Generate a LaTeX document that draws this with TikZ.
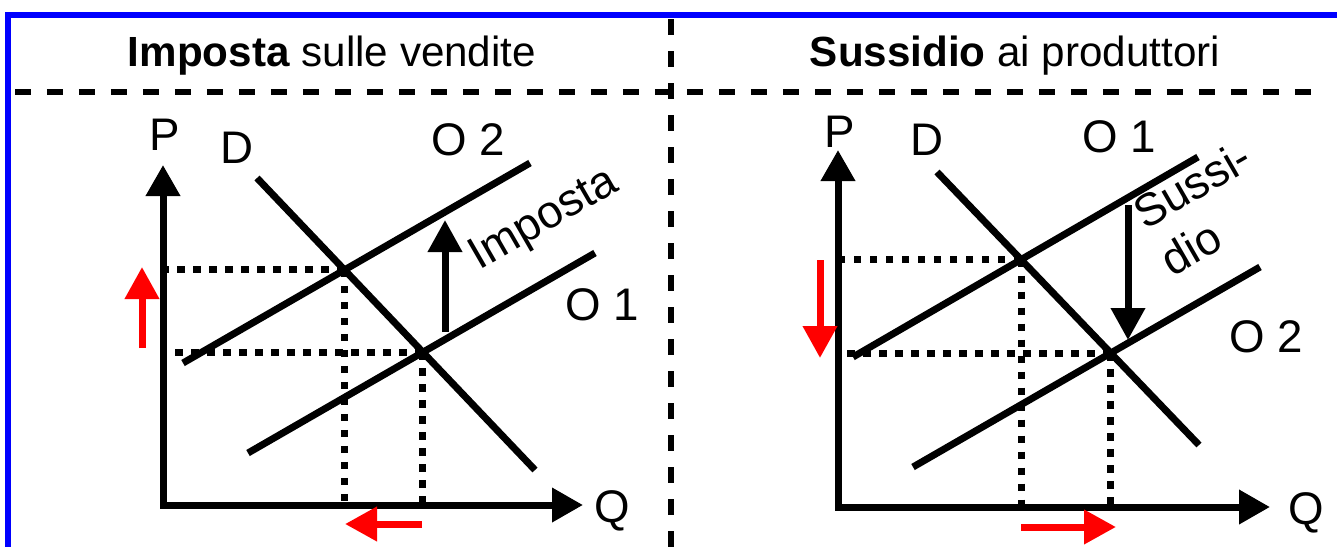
\documentclass[tikz,border=0pt]{standalone}
\usepackage{fontspec}
\setmainfont{Liberation Sans}
\usetikzlibrary{arrows.meta}
\definecolor{FrameBlue}{RGB}{0,0,255}
\definecolor{ShiftRed}{RGB}{255,0,0}

\begin{document}
\begin{tikzpicture}[x=0.1mm, y=-0.1mm,
    every node/.style={inner sep=0pt, font=\fontsize{13}{15.6}\selectfont},
    heading/.style={font=\fontsize{12}{14.4}\selectfont, anchor=base},
    headtip/.style={-{Triangle[length=3.2mm, width=3.3mm]}},
    market/.style={line width=0.7mm},
    axes/.style={line width=0.7mm, {Triangle[length=3.1mm, width=3.3mm]}-{Triangle[length=3.1mm, width=3.3mm]}},
    guide/.style={line width=0.7mm, dash pattern=on 0.75mm off 0.85mm},
    divider/.style={line width=0.65mm, dash pattern=on 1.6mm off 1.6mm},
    redarrow/.style={line width=0.7mm, ShiftRed, headtip},
    blackarrow/.style={line width=0.7mm, headtip}]
  \useasboundingbox (0,0) rectangle (1337,547);
  % frame, dividers and titles
  \draw[line width=0.55mm, FrameBlue] (1337,14.8) -- (8,14.8) -- (8,547);
  \draw[divider] (15,92) -- (1311,92);
  \draw[divider] (671,19) -- (671,547);
  \node[heading] (taxtitle) at (332,66) {\textbf{Imposta} sulle vendite};
  \node[heading] (subtitle) at (1015,66) {\textbf{Sussidio} ai produttori};

  % left panel: tax on sales
  \coordinate (ol) at (163,505);
  \coordinate (pl) at (163,165);
  \coordinate (ql) at (583,505);
  \coordinate (dl1) at (257,178);  \coordinate (dl2) at (535,470);
  \coordinate (sl1) at (248,453);  \coordinate (sl2) at (595,253);
  \coordinate (tl1) at (183,363);  \coordinate (tl2) at (530,163);
  \coordinate (el1) at (intersection of dl1--dl2 and sl1--sl2);
  \coordinate (el2) at (intersection of dl1--dl2 and tl1--tl2);
  \draw[axes] (pl) -- (ol) -- (ql);
  \foreach \x/\y in {dl1/dl2,sl1/sl2,tl1/tl2}
    \draw[market] (\x) -- (\y);
  \foreach \e in {el1,el2} {
    \draw[guide] (\e) -- (\e -| ol);
    \draw[guide] (\e) -- (\e |- ol);
  }
  \node[anchor=base] (plab) at (165,150) {P};
  \node[anchor=base] (dlab) at (237,163) {D};
  \node[anchor=base] (o2lab) at (468,155) {O 2};
  \node[anchor=base] (o1lab) at (602,320) {O 1};
  \node[anchor=base west] (qlab) at (594,522) {Q};
  \node[anchor=base, rotate=30] (taxlab) at (550,230) {Imposta};
  \coordinate (tax1) at (445,332);  \coordinate (tax2) at (445,220);
  \coordinate (pup1) at (142,348);  \coordinate (pup2) at (142,267);
  \coordinate (qdn1) at (422,524);  \coordinate (qdn2) at (345,524);

  % right panel: subsidy to producers
  \coordinate (or) at (838,507);
  \coordinate (pr) at (838,150);
  \coordinate (qr) at (1270,507);
  \coordinate (dr1) at (937,172);  \coordinate (dr2) at (1199,445);
  \coordinate (sr1) at (853,357);  \coordinate (sr2) at (1198,157);
  \coordinate (ur1) at (913,467);  \coordinate (ur2) at (1260,267);
  \coordinate (er1) at (intersection of dr1--dr2 and sr1--sr2);
  \coordinate (er2) at (intersection of dr1--dr2 and ur1--ur2);
  \draw[axes] (pr) -- (or) -- (qr);
  \foreach \x/\y in {dr1/dr2,sr1/sr2,ur1/ur2}
    \draw[market] (\x) -- (\y);
  \foreach \e in {er1,er2} {
    \draw[guide] (\e) -- (\e -| or);
    \draw[guide] (\e) -- (\e |- or);
  }
  \node[anchor=base] (prlab) at (840,147) {P};
  \node[anchor=base] (drlab) at (927,155) {D};
  \node[anchor=base] (o1rlab) at (1119,152) {O 1};
  \node[anchor=base] (o2rlab) at (1266,352) {O 2};
  \node[anchor=base west] (qrlab) at (1288,524) {Q};
  \node[anchor=base west, rotate=30, align=left] (sublab) at (1172,278) {Sussi-\\dio};
  \coordinate (sub1) at (1128,205);  \coordinate (sub2) at (1128,340);
  \coordinate (pdn1) at (820,260);   \coordinate (pdn2) at (820,358);
  \coordinate (qup1) at (1021,527);  \coordinate (qup2) at (1116,527);

  \foreach \x/\y in {tax1/tax2,sub1/sub2}
    \draw[blackarrow] (\x) -- (\y);
  \foreach \x/\y in {pup1/pup2,qdn1/qdn2,pdn1/pdn2,qup1/qup2}
    \draw[redarrow] (\x) -- (\y);
\end{tikzpicture}
\end{document}
